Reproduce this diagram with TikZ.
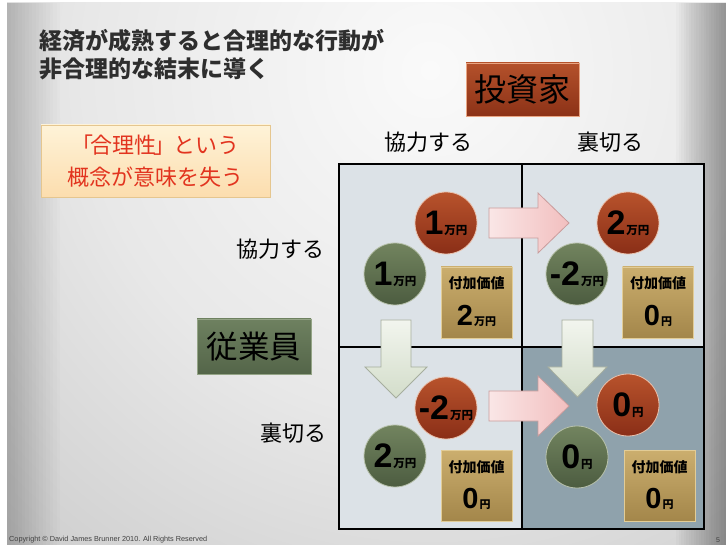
\documentclass[tikz,border=0pt]{standalone}
\usepackage{fontspec}
\setmainfont{Noto Sans CJK JP}
\newfontfamily\numfont{Liberation Sans}
\definecolor{bgin}{HTML}{FAFAFA}
\definecolor{bgmid}{HTML}{E8E8E8}
\definecolor{bgdark}{HTML}{BEBEBE}
\definecolor{bgout}{HTML}{A8A8A8}
\definecolor{celllight}{HTML}{DCE2E7}
\definecolor{celldark}{HTML}{8FA2AC}
\definecolor{redtop}{HTML}{B8532C}
\definecolor{redbot}{HTML}{8A2E17}
\definecolor{redrim}{HTML}{EAC2AE}
\definecolor{greentop}{HTML}{72845F}
\definecolor{greenbot}{HTML}{4C5C40}
\definecolor{greenrim}{HTML}{B8C2AC}
\definecolor{goldtop}{HTML}{CBAE6E}
\definecolor{goldbot}{HTML}{A3864A}
\definecolor{goldrim}{HTML}{E2CC96}
\definecolor{pinkl}{HTML}{FAE6E6}
\definecolor{pinkr}{HTML}{F2BFBF}
\definecolor{pinkrim}{HTML}{C99C9C}
\definecolor{vtop}{HTML}{F2F5EE}
\definecolor{vbot}{HTML}{D3DDCA}
\definecolor{vrim}{HTML}{A6AE9E}
\definecolor{creamtop}{HTML}{FEF3D8}
\definecolor{creambot}{HTML}{FCDDAE}
\definecolor{creamrim}{HTML}{E5C68F}
\definecolor{msgred}{HTML}{E2341F}
\definecolor{titlegray}{HTML}{2E2E2E}
\definecolor{invtop}{HTML}{B4512B}
\definecolor{invbot}{HTML}{8C3217}
\definecolor{invrim}{HTML}{E9A583}
\definecolor{emptop}{HTML}{6E8160}
\definecolor{empbot}{HTML}{546549}
\definecolor{emprim}{HTML}{94A486}
\pgfdeclareradialshading{bgshade}{\pgfpoint{0bp}{0bp}}{color(0bp)=(bgin); color(12bp)=(bgmid); color(28bp)=(bgdark); color(50bp)=(bgout)}
\newcommand\cnum[2]{{\numfont\bfseries\fontsize{34}{34}\selectfont #1}\kern1pt{\bfseries\fontsize{11.5}{11.5}\selectfont #2}}
\newcommand\bnum[2]{{\numfont\bfseries\fontsize{29}{29}\selectfont #1}\kern1pt{\bfseries\fontsize{11}{11}\selectfont #2}}
\tikzset{
  redc/.style={circle, minimum size=62pt, inner sep=0pt, top color=redtop, bottom color=redbot, draw=redrim, line width=0.8pt},
  greenc/.style={circle, minimum size=62pt, inner sep=0pt, top color=greentop, bottom color=greenbot, draw=greenrim, line width=0.8pt},
  goldbox/.style={rectangle, minimum width=71pt, minimum height=71pt, inner sep=0pt, top color=goldtop, bottom color=goldbot, draw=goldrim, line width=0.8pt},
  goldlbl/.style={font=\bfseries\fontsize{14}{14}\selectfont, inner sep=0pt},
  goldval/.style={inner sep=0pt},
  harrow/.style={left color=pinkl, right color=pinkr, draw=pinkrim, line width=0.8pt},
  varrow/.style={top color=vtop, bottom color=vbot, draw=vrim, line width=0.8pt},
  axislbl/.style={font=\fontsize{22}{22}\selectfont, inner sep=0pt},
  gridline/.style={line width=1.8pt, black}
}
\begin{document}
\begin{tikzpicture}[x=1pt,y=-1pt]
\useasboundingbox (0,0) rectangle (726,545);
% background
\fill[white] (0,0) rectangle (726,545);
\begin{scope}
  \clip (7,3) rectangle (726,545);
  \shade[shading=bgshade] (430,70) circle (720);
  \foreach \i in {0,...,19} {\fill[black, opacity=0.02] (676+\i*2.5,3) rectangle (726,545);}
  \foreach \i in {0,...,14} {\fill[black, opacity=0.012] (7,3) rectangle (60-\i*3.5,545);}
\end{scope}
% title
\node[anchor=west, inner sep=0pt, text=titlegray, font=\bfseries\fontsize{23}{23}\selectfont] (title1) at (39,41) {経済が成熟すると合理的な行動が};
\node[anchor=west, inner sep=0pt, text=titlegray, font=\bfseries\fontsize{23}{23}\selectfont] (title2) at (39,69) {非合理的な結末に導く};
% message box
\node[rectangle, minimum width=229pt, minimum height=72pt, top color=creamtop, bottom color=creambot, draw=creamrim, line width=0.8pt] (msg) at (155.5,161) {};
\node[inner sep=0pt, text=msgred, font=\fontsize{22}{22}\selectfont] (msg1) at (155.5,145) {「\kern-3pt 合理性\kern-3pt 」\kern-2pt という};
\node[inner sep=0pt, text=msgred, font=\fontsize{22}{22}\selectfont] (msg2) at (155.5,177) {概念が意味を失う};
% investor box
\node[rectangle, minimum width=113pt, minimum height=53pt, inner sep=0pt, top color=invtop, bottom color=invbot, draw=invrim, line width=0.8pt, font=\fontsize{32}{32}\selectfont] (inv) at (522.5,89.5) {投資家};
% employee box
\node[rectangle, minimum width=114pt, minimum height=55pt, inner sep=0pt, top color=emptop, bottom color=empbot, draw=emprim, line width=0.8pt, font=\fontsize{31.5}{31.5}\selectfont] (emp) at (254,346.5) {従業員};
% axis labels
\node[axislbl] (colA) at (428,142) {協力する};
\node[axislbl] (colB) at (610,142) {裏切る};
\node[axislbl] (rowA) at (280,249) {協力する};
\node[axislbl] (rowB) at (293,433) {裏切る};
% cells
\fill[celllight] (339,164) rectangle (704,529);
\fill[celldark] (522,347) rectangle (704,529);
\draw[gridline] (339,164) rectangle (704,529);
\draw[gridline] (522,164) -- (522,529);
\draw[gridline] (339,347) -- (704,347);
% arrows
\draw[harrow] (489,208) -- (538,208) -- (538,193) -- (569,223) -- (538,253) -- (538,238) -- (489,238) -- cycle;
\draw[harrow] (489,391) -- (538,391) -- (538,376) -- (569,406) -- (538,436) -- (538,421) -- (489,421) -- cycle;
\draw[varrow] (381,320) -- (411,320) -- (411,367) -- (427,367) -- (396,398) -- (365,367) -- (381,367) -- cycle;
\draw[varrow] (562,320) -- (593,320) -- (593,367) -- (607,367) -- (577.5,397) -- (548,367) -- (562,367) -- cycle;
% top-left cell
\node[redc] (r11) at (446,223) {\cnum{1}{万円}};
\node[greenc] (g11) at (395,274) {\cnum{1}{万円}};
\node[goldbox] (v11) at (476.5,302.5) {};
\node[goldlbl] (v11l) at ([yshift=19pt]v11.center) {付加価値};
\node[goldval] (v11n) at ([yshift=-13pt]v11.center) {\bnum{2}{万円}};
% top-right cell
\node[redc] (r12) at (628,223) {\cnum{2}{万円}};
\node[greenc] (g12) at (577,274) {\cnum{-2}{万円}};
\node[goldbox] (v12) at (658,302.5) {};
\node[goldlbl] (v12l) at ([yshift=19pt]v12.center) {付加価値};
\node[goldval] (v12n) at ([yshift=-13pt]v12.center) {\bnum{0}{円}};
% bottom-left cell
\node[redc] (r21) at (446,408) {\cnum{-2}{万円}};
\node[greenc] (g21) at (395,456) {\cnum{2}{万円}};
\node[goldbox] (v21) at (476.5,486) {};
\node[goldlbl] (v21l) at ([yshift=19pt]v21.center) {付加価値};
\node[goldval] (v21n) at ([yshift=-13pt]v21.center) {\bnum{0}{円}};
% bottom-right cell
\node[redc] (r22) at (628,405) {\cnum{0}{円}};
\node[greenc] (g22) at (577,457) {\cnum{0}{円}};
\node[goldbox] (v22) at (659.5,486) {};
\node[goldlbl] (v22l) at ([yshift=19pt]v22.center) {付加価値};
\node[goldval] (v22n) at ([yshift=-13pt]v22.center) {\bnum{0}{円}};
% footer
\node[anchor=west, inner sep=0pt, text=black!75, font=\numfont\fontsize{7.3}{7.3}\selectfont] (copy) at (9,540) {Copyright © David James Brunner 2010. All Rights Reserved};
\node[inner sep=0pt, text=black!75, font=\numfont\fontsize{7}{7}\selectfont] (pg) at (718,540) {5};
\end{tikzpicture}
\end{document}
